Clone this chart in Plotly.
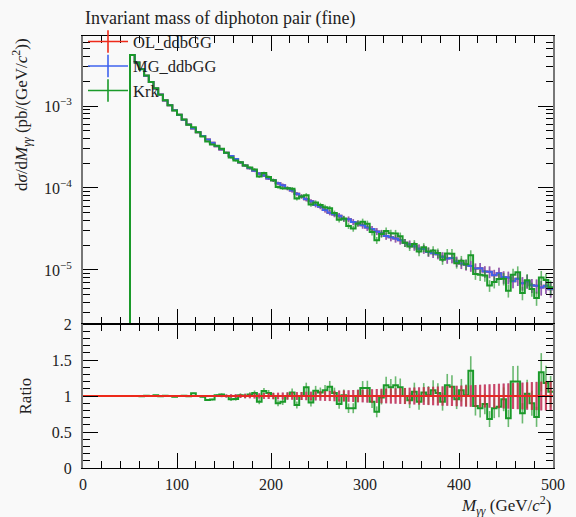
import numpy as np
import plotly.graph_objects as go

# ---------------- data ----------------
BIN_EDGES = list(range(0, 505, 5))  # GeV, 100 bins of 5 GeV

# OL_ddbGG cross section per bin (pb/GeV); bins below 50 GeV are empty
OL_VALUES = [0.0] * 10 + [
    4.2e-3, 3.4e-3, 2.82e-3, 2.34e-3, 1.96e-3, 1.63e-3, 1.38e-3, 1.17e-3, 1.02e-3, 8.9e-4,
    7.8e-4, 6.8e-4, 5.95e-4, 5.3e-4, 4.8e-4, 4.3e-4, 3.9e-4, 3.56e-4, 3.24e-4, 2.95e-4,
    2.7e-4, 2.46e-4, 2.25e-4, 2.04e-4, 1.88e-4, 1.74e-4, 1.62e-4, 1.5e-4, 1.42e-4, 1.31e-4,
    1.24e-4, 1.14e-4, 1.08e-4, 9.9e-5, 9.3e-5, 8.5e-5, 7.9e-5, 7.3e-5, 6.9e-5, 6.2e-5,
    5.9e-5, 5.4e-5, 5.0e-5, 4.75e-5, 4.6e-5, 4.2e-5, 4.15e-5, 3.85e-5, 3.7e-5, 3.5e-5,
    3.3e-5, 3.15e-5, 2.95e-5, 2.8e-5, 2.6e-5, 2.5e-5, 2.42e-5, 2.3e-5, 2.15e-5, 2.05e-5,
    1.95e-5, 1.82e-5, 1.8e-5, 1.66e-5, 1.6e-5, 1.55e-5, 1.45e-5, 1.38e-5, 1.4e-5, 1.27e-5,
    1.2e-5, 1.16e-5, 1.12e-5, 1.04e-5, 1.05e-5, 9.6e-6, 9.5e-6, 8.6e-6, 9.1e-6, 8.2e-6,
    8.1e-6, 7.3e-6, 7.8e-6, 6.9e-6, 7.3e-6, 6.5e-6, 6.4e-6, 6.1e-6, 6.4e-6, 5.8e-6,
]
# MG_ddbGG agrees with OL_ddbGG bin by bin
MG_VALUES = list(OL_VALUES)

# relative statistical uncertainty of OL / MG per bin
REL_ERR = [0.0] * 10 + [
    0.002, 0.002, 0.003, 0.003, 0.003, 0.004, 0.004, 0.004, 0.005, 0.005,
    0.005, 0.006, 0.006, 0.007, 0.008, 0.009, 0.010, 0.012, 0.014, 0.016,
    0.020, 0.024, 0.026, 0.028, 0.030, 0.032, 0.035, 0.037, 0.040, 0.042,
    0.044, 0.046, 0.048, 0.050, 0.052, 0.054, 0.056, 0.058, 0.060, 0.062,
    0.065, 0.068, 0.070, 0.073, 0.076, 0.078, 0.080, 0.083, 0.086, 0.088,
    0.092, 0.094, 0.097, 0.100, 0.102, 0.105, 0.107, 0.110, 0.112, 0.115,
    0.118, 0.120, 0.123, 0.126, 0.128, 0.131, 0.134, 0.136, 0.139, 0.142,
    0.145, 0.148, 0.150, 0.153, 0.156, 0.160, 0.163, 0.166, 0.170, 0.173,
    0.176, 0.180, 0.183, 0.186, 0.190, 0.193, 0.196, 0.200, 0.203, 0.206,
]

# Krk / OL ratio per bin (nan where the reference is empty)
KRK_RATIO = [np.nan] * 10 + [
    1.0, 1.0, 0.995, 1.005, 1.0, 1.01, 0.995, 1.005, 1.0, 0.99,
    1.0, 1.005, 0.995, 1.037, 1.0, 0.99, 0.944, 0.95, 1.01, 1.02,
    1.0, 0.955, 0.96, 1.01, 1.0, 1.02, 1.04, 0.92, 1.07, 1.04,
    1.0, 0.9, 0.92, 1.0, 1.05, 0.875, 1.0, 1.12, 0.91, 1.074,
    1.05, 1.08, 1.13, 1.04, 0.89, 1.01, 0.83, 0.83, 1.0, 1.11,
    1.11, 0.92, 0.78, 0.98, 1.15, 1.12, 1.15, 1.12, 1.0, 0.94,
    1.06, 0.92, 1.05, 1.01, 1.08, 1.04, 0.92, 1.15, 1.13, 0.954,
    1.08, 1.01, 1.35, 0.86, 0.83, 0.89, 0.68, 0.83, 0.85, 0.954,
    0.69, 1.2, 1.2, 0.76, 1.03, 0.9, 0.71, 1.33, 1.18, 1.06,
]

SERIES_NAMES = ["OL_ddbGG", "MG_ddbGG", "Krk"]
COLORS = {"OL_ddbGG": "#ee2a1a", "MG_ddbGG": "#3f63ee", "Krk": "#1a9a2a"}
ERR_COLORS = {"OL_ddbGG": "rgba(215,40,60,0.75)", "MG_ddbGG": "rgba(80,90,230,0.6)",
              "Krk": "rgba(30,150,40,0.65)"}

TITLE = "Invariant mass of diphoton pair (fine)"
YTITLE = "d<i>σ</i>/d<i>M</i><sub><i>γγ</i></sub> (pb/(GeV/<i>c</i><sup>2</sup>))"
XTITLE = "<i>M</i><sub><i>γγ</i></sub> (GeV/<i>c</i><sup>2</sup>)"
RATIO_TITLE = "Ratio"
YTICKS_TOP = [1e-5, 1e-4, 1e-3]
YTICKTEXT_TOP = ["10<sup>−5</sup>", "10<sup>−4</sup>", "10<sup>−3</sup>"]
RATIO_TICKS = [0, 0.5, 1, 1.5, 2]
RATIO_TICKTEXT = ["0", "0.5", "1", "1.5", "2"]

# ---------------- derived ----------------
edges = np.array(BIN_EDGES, dtype=float)
centers = 0.5 * (edges[:-1] + edges[1:])
ol = np.array(OL_VALUES)
mg = np.array(MG_VALUES)
rel = np.array(REL_ERR)
krk_ratio = np.array(KRK_RATIO)
with np.errstate(invalid="ignore"):
    krk = np.where(np.isnan(krk_ratio), 0.0, krk_ratio * ol)
vals = {"OL_ddbGG": ol, "MG_ddbGG": mg, "Krk": krk}
errs = {"OL_ddbGG": ol * rel, "MG_ddbGG": mg * rel, "Krk": krk * rel}

ref = ol
ratios = {}
ratio_errs = {}
for n in SERIES_NAMES:
    with np.errstate(invalid="ignore", divide="ignore"):
        r = np.where(ref > 0, vals[n] / np.where(ref > 0, ref, 1), np.nan)
        re = np.where(ref > 0, errs[n] / np.where(ref > 0, ref, 1), 0.0)
    if n == "OL_ddbGG":
        r = np.ones_like(ref)
    ratios[n] = r
    ratio_errs[n] = re

FONT = "Liberation Serif"
fig = go.Figure()

def step_xy(v):
    x = list(edges[:-1]) + [edges[-1]]
    y = list(v) + [v[-1]]
    return x, y

TINY = 1e-12
for n in SERIES_NAMES:
    v = np.where(vals[n] > 0, vals[n], TINY)
    x, y = step_xy(v)
    fig.add_trace(go.Scatter(x=x, y=y, mode="lines", line=dict(color=COLORS[n], width=2, shape="hv"),
                             showlegend=False, xaxis="x", yaxis="y", hoverinfo="skip"))
    mask = vals[n] > 0
    fig.add_trace(go.Scatter(x=centers[mask], y=vals[n][mask], mode="markers",
                             marker=dict(size=0.1, color=COLORS[n], opacity=0),
                             error_y=dict(type="data", array=errs[n][mask], color=ERR_COLORS[n],
                                          thickness=1.6, width=0),
                             showlegend=False, xaxis="x", yaxis="y", hoverinfo="skip"))

# ratio panel: MG, Krk, then OL on top
for n in ["MG_ddbGG", "Krk", "OL_ddbGG"]:
    r = ratios[n]
    x, y = step_xy(r)
    y = [None if (yy is None or np.isnan(yy)) else yy for yy in y]
    fig.add_trace(go.Scatter(x=x, y=y, mode="lines", line=dict(color=COLORS[n], width=2, shape="hv"),
                             showlegend=False, xaxis="x2", yaxis="y2", hoverinfo="skip",
                             connectgaps=False))
    mask = ~np.isnan(r) & (ratio_errs[n] > 0)
    fig.add_trace(go.Scatter(x=centers[mask], y=r[mask], mode="markers",
                             marker=dict(size=0.1, color=COLORS[n], opacity=0),
                             error_y=dict(type="data", array=ratio_errs[n][mask], color=ERR_COLORS[n],
                                          thickness=2.2 if n == "OL_ddbGG" else 1.6, width=0),
                             showlegend=False, xaxis="x2", yaxis="y2", hoverinfo="skip"))

# legend entries
for n in SERIES_NAMES:
    fig.add_trace(go.Scatter(x=[None], y=[None], mode="lines+markers", name=n,
                             line=dict(color=COLORS[n], width=1.6),
                             marker=dict(symbol="line-ns", size=17, color=COLORS[n],
                                         line=dict(color=COLORS[n], width=1.6)),
                             xaxis="x", yaxis="y"))

# minor ticks
log_minor = [m * 10.0 ** k for k in range(-6, -1) for m in range(2, 10)]
tickfont = dict(family=FONT, size=16, color="#222")
common_x = dict(range=[0, 500], showline=True, linecolor="black", linewidth=1.3, mirror="ticks",
                ticks="inside", ticklen=15, tickwidth=1.3, tickcolor="black", dtick=100, tick0=0,
                showgrid=False, zeroline=False,
                minor=dict(ticks="inside", ticklen=7, tickwidth=1.3, tickcolor="black", dtick=20,
                           showgrid=False))
fig.update_layout(
    width=576, height=517,
    margin=dict(l=83, r=11, t=36, b=49),
    paper_bgcolor="#f9f9f9", plot_bgcolor="#f9f9f9",
    font=dict(family=FONT, size=16, color="#222"),
    showlegend=True,
    legend=dict(x=0.0, y=1.027, xanchor="left", yanchor="top", bgcolor="rgba(0,0,0,0)",
                font=dict(family=FONT, size=16.5, color="#222"), tracegroupgap=0,
                itemwidth=40, borderwidth=0),
    xaxis=dict(domain=[0, 1], anchor="y", showticklabels=False, **common_x),
    xaxis2=dict(domain=[0, 1], anchor="y2", showticklabels=True, tickfont=tickfont,
                ticklabelstandoff=2, **common_x),
    yaxis=dict(domain=[1 / 3, 1], anchor="x", type="log", range=[-5.659, -2.146],
               tickmode="array", tickvals=YTICKS_TOP, ticktext=YTICKTEXT_TOP, tickfont=tickfont,
               ticklabelstandoff=6,
               showline=True, linecolor="#777", linewidth=2, mirror="ticks",
               ticks="inside", ticklen=15, tickwidth=1.3, tickcolor="black", showgrid=False,
               minor=dict(ticks="inside", ticklen=7, tickwidth=1.3, tickcolor="black",
                          tickmode="array", tickvals=log_minor, showgrid=False)),
    yaxis2=dict(domain=[0, 1 / 3], anchor="x2", range=[0, 2],
                tickmode="array", tickvals=RATIO_TICKS, ticktext=RATIO_TICKTEXT, tickfont=tickfont,
                ticklabelstandoff=6,
                showline=True, linecolor="#777", linewidth=2, mirror="ticks",
                ticks="inside", ticklen=15, tickwidth=1.3, tickcolor="black", showgrid=False,
                zeroline=False,
                minor=dict(ticks="inside", ticklen=7, tickwidth=1.3, tickcolor="black",
                           dtick=0.1, showgrid=False)),
)
fig.add_annotation(text=TITLE, xref="paper", yref="paper", x=0, y=1, xanchor="left", yanchor="bottom",
                   yshift=5, showarrow=False, font=dict(family=FONT, size=18, color="#222"))
fig.add_annotation(text=XTITLE, xref="paper", yref="paper", x=1, y=0, xanchor="right", yanchor="top",
                   yshift=-23, showarrow=False, font=dict(family=FONT, size=17, color="#222"))
# y-axis titles, aligned to the top of the main panel / centred on the ratio panel
fig.add_annotation(text=YTITLE, xref="paper", yref="paper", x=0, y=1, xanchor="right", yanchor="top",
                   xshift=-47, textangle=-90, showarrow=False,
                   font=dict(family=FONT, size=17, color="#222"))
fig.add_annotation(text=RATIO_TITLE, xref="paper", yref="y2", x=0, y=1, xanchor="right", yanchor="middle",
                   xshift=-47, textangle=-90, showarrow=False,
                   font=dict(family=FONT, size=17, color="#222"))

fig.write_html("out.html")
